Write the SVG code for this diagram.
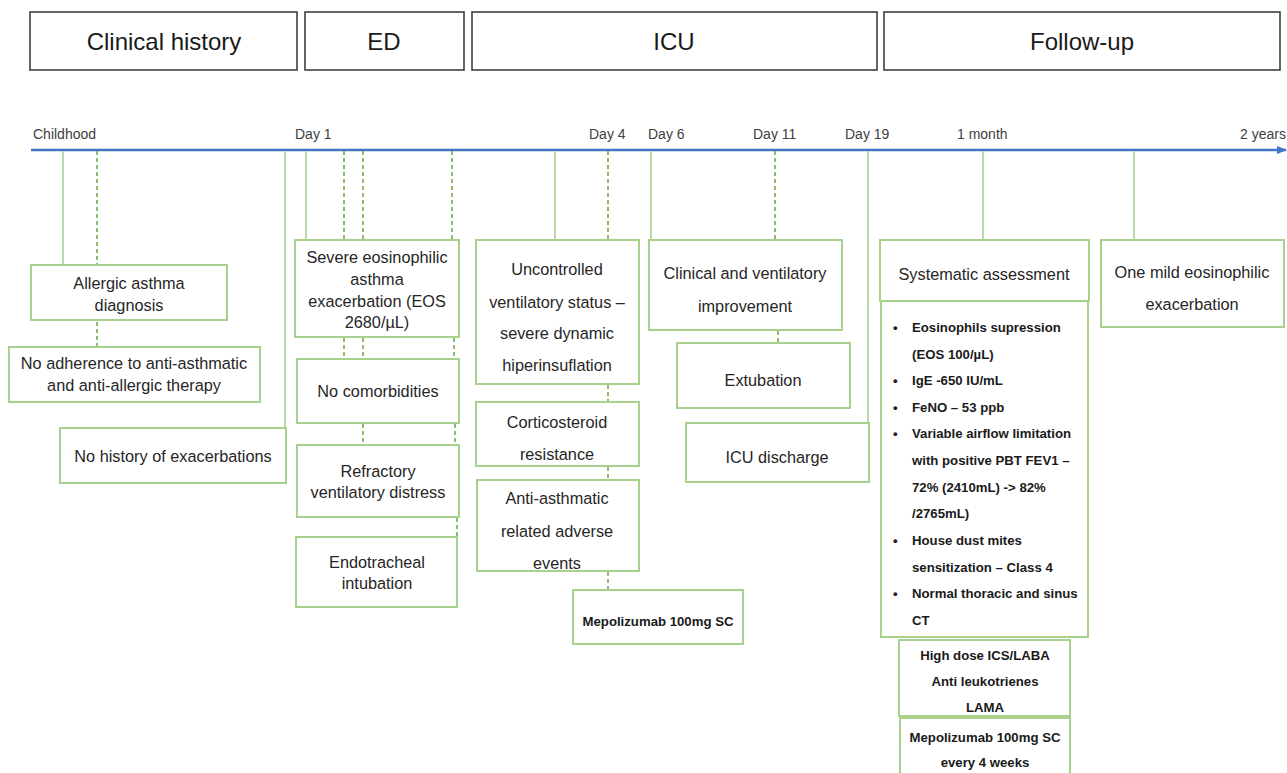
<svg xmlns="http://www.w3.org/2000/svg" width="1287" height="773" viewBox="0 0 1287 773">
<style>
.hdr{fill:#fff;stroke:#404040;stroke-width:1.6}
.ht{font-family:"Liberation Sans",Arial,sans-serif;font-size:24px;fill:#1a1a1a;text-anchor:middle}
.tl{font-family:"Liberation Sans",Arial,sans-serif;font-size:14px;fill:#404040}
.box{fill:#fff;stroke:#A9D18E;stroke-width:2}
.t{font-family:"Liberation Sans",Arial,sans-serif;font-size:16.3px;fill:#262626;text-anchor:middle}
.b{font-family:"Liberation Sans",Arial,sans-serif;font-size:13.2px;font-weight:bold;fill:#1a1a1a}
.bc{text-anchor:middle}
.sol{stroke:#A9D18E;stroke-width:1.6;fill:none}
.dash{stroke:#70AD47;stroke-width:1.6;stroke-dasharray:4 3;fill:none}
</style>
<defs>
<marker id="arr" markerWidth="10" markerHeight="8" refX="9" refY="4" orient="auto" markerUnits="userSpaceOnUse">
<path d="M0,0 L10,4 L0,8 Z" fill="#4472C4"/>
</marker>
</defs>

<g id="headers">
<rect class="hdr" x="30" y="12" width="267" height="58"/>
<text class="ht" x="164" y="50">Clinical history</text>
<rect class="hdr" x="305" y="12" width="159" height="58"/>
<text class="ht" x="384" y="50">ED</text>
<rect class="hdr" x="472" y="12" width="405" height="58"/>
<text class="ht" x="674" y="50">ICU</text>
<rect class="hdr" x="884" y="12" width="396" height="58"/>
<text class="ht" x="1082" y="50">Follow-up</text>
</g>

<g id="timeline">
<line x1="31" y1="150" x2="1286" y2="150" stroke="#4472C4" stroke-width="2.5" marker-end="url(#arr)"/>
<text class="tl" x="33" y="139">Childhood</text>
<text class="tl" x="295" y="139">Day 1</text>
<text class="tl" x="589" y="139">Day 4</text>
<text class="tl" x="648" y="139">Day 6</text>
<text class="tl" x="753" y="139">Day 11</text>
<text class="tl" x="845" y="139">Day 19</text>
<text class="tl" x="957" y="139">1 month</text>
<text class="tl" x="1286" y="139" text-anchor="end">2 years</text>
</g>

<g id="connectors">
<line class="sol" x1="63" y1="151" x2="63" y2="265"/>
<line class="dash" x1="97" y1="151" x2="97" y2="265"/>
<line class="dash" x1="97" y1="322" x2="97" y2="346"/>
<line class="sol" x1="285" y1="151" x2="285" y2="428"/>
<line class="sol" x1="306" y1="151" x2="306" y2="240"/>
<line class="dash" x1="344" y1="151" x2="344" y2="240"/>
<line class="dash" x1="363" y1="151" x2="363" y2="240"/>
<line class="dash" x1="452" y1="151" x2="452" y2="240"/>
<line class="dash" x1="344" y1="338" x2="344" y2="359"/>
<line class="dash" x1="363" y1="338" x2="363" y2="359"/>
<line class="dash" x1="454" y1="338" x2="454" y2="359"/>
<line class="dash" x1="363" y1="424" x2="363" y2="445"/>
<line class="dash" x1="455" y1="424" x2="455" y2="445"/>
<line class="dash" x1="457" y1="518" x2="457" y2="537"/>
<line class="sol" x1="555" y1="151" x2="555" y2="240"/>
<line class="dash" x1="608" y1="151" x2="608" y2="240"/>
<line class="dash" x1="608" y1="385" x2="608" y2="402"/>
<line class="dash" x1="608" y1="467" x2="608" y2="480"/>
<line class="dash" x1="608" y1="572" x2="608" y2="590"/>
<line class="sol" x1="651" y1="151" x2="651" y2="240"/>
<line class="dash" x1="775" y1="151" x2="775" y2="240"/>
<line class="dash" x1="778" y1="331" x2="778" y2="343"/>
<line class="sol" x1="868" y1="151" x2="868" y2="423"/>
<line class="sol" x1="983" y1="151" x2="983" y2="240"/>
<line class="sol" x1="1134" y1="151" x2="1134" y2="240"/>
</g>

<g id="n-allergic">
<rect class="box" x="31" y="265" width="196" height="55"/>
<text class="t" x="129" y="289">Allergic asthma</text>
<text class="t" x="129" y="311">diagnosis</text>
</g>
<g id="n-adherence">
<rect class="box" x="9" y="347" width="251" height="55"/>
<text class="t" x="134" y="369">No adherence to anti-asthmatic</text>
<text class="t" x="134" y="391">and anti-allergic therapy</text>
</g>
<g id="n-history">
<rect class="box" x="60" y="428" width="226" height="55"/>
<text class="t" x="173" y="462">No history of exacerbations</text>
</g>

<g id="n-severe">
<rect class="box" x="295" y="240" width="164" height="97"/>
<text class="t" x="377" y="263">Severe eosinophilic</text>
<text class="t" x="377" y="285">asthma</text>
<text class="t" x="377" y="307">exacerbation (EOS</text>
<text class="t" x="377" y="328">2680/µL)</text>
</g>
<g id="n-comorb">
<rect class="box" x="297" y="359" width="162" height="64"/>
<text class="t" x="378" y="397">No comorbidities</text>
</g>
<g id="n-refractory">
<rect class="box" x="297" y="445" width="162" height="72"/>
<text class="t" x="378" y="477">Refractory</text>
<text class="t" x="378" y="498">ventilatory distress</text>
</g>
<g id="n-intubation">
<rect class="box" x="296" y="537" width="161" height="70"/>
<text class="t" x="377" y="568">Endotracheal</text>
<text class="t" x="377" y="589">intubation</text>
</g>

<g id="n-uncontrolled">
<rect class="box" x="476" y="240" width="163" height="144"/>
<text class="t" x="557" y="275">Uncontrolled</text>
<text class="t" x="557" y="308">ventilatory status –</text>
<text class="t" x="557" y="339">severe dynamic</text>
<text class="t" x="557" y="371">hiperinsuflation</text>
</g>
<g id="n-cortico">
<rect class="box" x="476" y="402" width="163" height="64"/>
<text class="t" x="557" y="428">Corticosteroid</text>
<text class="t" x="557" y="460">resistance</text>
</g>
<g id="n-adverse">
<rect class="box" x="477" y="480" width="162" height="91"/>
<text class="t" x="557" y="504">Anti-asthmatic</text>
<text class="t" x="557" y="537">related adverse</text>
<text class="t" x="557" y="569">events</text>
</g>
<g id="n-mepo1">
<rect class="box" x="573" y="590" width="170" height="54"/>
<text class="b bc" x="658" y="626">Mepolizumab 100mg SC</text>
</g>

<g id="n-improve">
<rect class="box" x="649" y="240" width="193" height="90"/>
<text class="t" x="745" y="279">Clinical and ventilatory</text>
<text class="t" x="745" y="312">improvement</text>
</g>
<g id="n-extubation">
<rect class="box" x="677" y="343" width="173" height="65"/>
<text class="t" x="763" y="386">Extubation</text>
</g>
<g id="n-discharge">
<rect class="box" x="686" y="423" width="183" height="59"/>
<text class="t" x="777" y="463">ICU discharge</text>
</g>

<g id="n-systematic">
<rect class="box" x="880" y="240" width="209" height="61"/>
<text class="t" x="984" y="280">Systematic assessment</text>
</g>
<g id="n-results">
<rect class="box" x="881" y="301" width="207" height="336"/>
<g class="b">
<text x="893" y="332">•</text><text x="912" y="332">Eosinophils supression</text>
<text x="912" y="359">(EOS 100/µL)</text>
<text x="893" y="385">•</text><text x="912" y="385">IgE -650 IU/mL</text>
<text x="893" y="412">•</text><text x="912" y="412">FeNO – 53 ppb</text>
<text x="893" y="438">•</text><text x="912" y="438">Variable airflow limitation</text>
<text x="912" y="465">with positive PBT FEV1 –</text>
<text x="912" y="492">72% (2410mL) -&gt; 82%</text>
<text x="912" y="518">/2765mL)</text>
<text x="893" y="545">•</text><text x="912" y="545">House dust mites</text>
<text x="912" y="572">sensitization – Class 4</text>
<text x="893" y="598">•</text><text x="912" y="598">Normal thoracic and sinus</text>
<text x="912" y="625">CT</text>
</g>
</g>
<g id="n-therapy">
<rect class="box" x="899" y="640" width="171" height="76"/>
<text class="b bc" x="985" y="660">High dose ICS/LABA</text>
<text class="b bc" x="985" y="686">Anti leukotrienes</text>
<text class="b bc" x="985" y="712">LAMA</text>
</g>
<g id="n-mepo2">
<rect class="box" x="900" y="718" width="170" height="56"/>
<text class="b bc" x="985" y="742">Mepolizumab 100mg SC</text>
<text class="b bc" x="985" y="767">every 4 weeks</text>
</g>
<g id="n-mild">
<rect class="box" x="1101" y="240" width="183" height="87"/>
<text class="t" x="1192" y="278">One mild eosinophilic</text>
<text class="t" x="1192" y="310">exacerbation</text>
</g>
</svg>
